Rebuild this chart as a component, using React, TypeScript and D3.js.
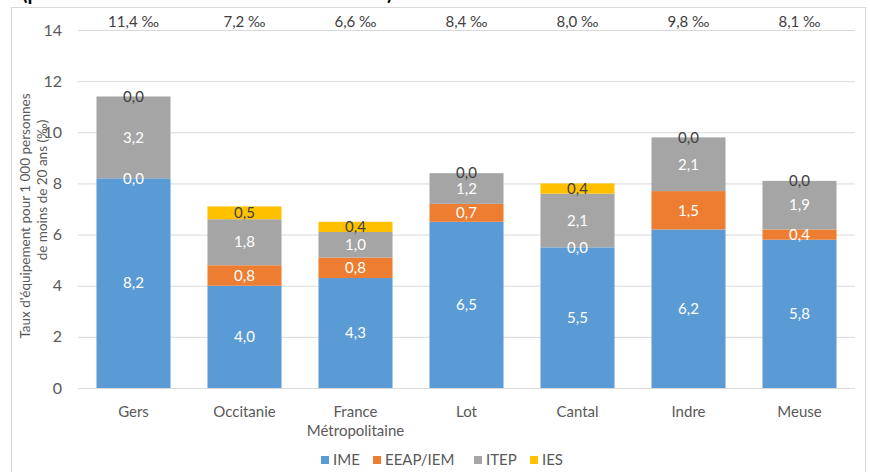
import { useEffect, useRef } from 'react';
import * as d3 from 'd3';

const categories = ['Gers', 'Occitanie', 'France\nMétropolitaine', 'Lot', 'Cantal', 'Indre', 'Meuse'];
const seriesNames = ['IME', 'EEAP/IEM', 'ITEP', 'IES'];
const ime = [8.2, 4.0, 4.3, 6.5, 5.5, 6.2, 5.8];
const eeap = [0.0, 0.8, 0.8, 0.7, 0.0, 1.5, 0.4];
const itep = [3.2, 1.8, 1.0, 1.2, 2.1, 2.1, 1.9];
const ies = [0.0, 0.5, 0.4, 0.0, 0.4, 0.0, 0.0];
const totals = ['11,4 ‰', '7,2 ‰', '6,6 ‰', '8,4 ‰', '8,0 ‰', '9,8 ‰', '8,1 ‰'];
const yTicks = [0, 2, 4, 6, 8, 10, 12, 14];

const colors = ['#5B9BD5', '#ED7D31', '#A5A5A5', '#FFC000'];
const labelColors = ['#ffffff', '#ffffff', '#ffffff', '#404040'];
const FONT = 'Lato, "Open Sans", sans-serif';

export default function App() {
  const svgRef = useRef<SVGSVGElement>(null);
  const W = 870;
  const H = 472;

  useEffect(() => {
    if (!svgRef.current) return;
    const svg = d3.select(svgRef.current);
    svg.selectAll('*').remove();

    // title, mostly cut off above the chart frame
    svg.append('text').attr('x', 22).attr('y', 0)
      .attr('font-family', FONT).attr('font-weight', 700).attr('font-size', 20)
      .attr('fill', '#000').text('(pour 1 000 habitants de moins de 20 ans)');

    // chart frame
    svg.append('rect').attr('x', 11.5).attr('y', 7.5).attr('width', 854).attr('height', 480)
      .attr('fill', '#fff').attr('stroke', '#D9D9D9');

    const left = 78, right = 855, top = 30, bottom = 388;
    const x = d3.scaleBand<string>().domain(categories).range([left, right]).paddingInner(0.333).paddingOuter(0.1665);
    const y = d3.scaleLinear().domain([0, 14]).range([bottom, top]);

    // grid
    svg.append('g').selectAll('line').data(yTicks).join('line')
      .attr('x1', left).attr('x2', right)
      .attr('y1', d => y(d) + 0.5).attr('y2', d => y(d) + 0.5)
      .attr('stroke', '#D9D9D9').attr('stroke-width', 1);

    // y tick labels
    svg.append('g').selectAll('text').data(yTicks).join('text')
      .attr('x', 62).attr('y', d => y(d)).attr('dy', '0.35em')
      .attr('text-anchor', 'end').attr('font-family', FONT).attr('font-size', 16)
      .attr('fill', '#595959').text(d => String(d));

    // y axis title
    const yt = [
      { t: "Taux d'équipement  pour 1 000 personnes", cx: 25, cy: 216 },
      { t: 'de moins de 20 ans (‰)', cx: 42, cy: 190 },
    ];
    yt.forEach(l => {
      svg.append('text').attr('transform', `translate(${l.cx},${l.cy}) rotate(-90)`)
        .attr('text-anchor', 'middle').attr('dy', '0.35em')
        .attr('font-family', FONT).attr('font-size', 13.5).attr('fill', '#595959').text(l.t);
    });

    const rows = categories.map((c, i) => ({ cat: c, IME: ime[i], 'EEAP/IEM': eeap[i], ITEP: itep[i], IES: ies[i] }));
    const stack = d3.stack<any>().keys(seriesNames)(rows);

    stack.forEach((layer, si) => {
      svg.append('g').selectAll('rect').data(layer).join('rect')
        .attr('x', d => x(d.data.cat)!)
        .attr('width', x.bandwidth())
        .attr('y', d => y(d[1]))
        .attr('height', d => y(d[0]) - y(d[1]))
        .attr('fill', colors[si]);
    });

    stack.forEach((layer, si) => {
      svg.append('g').selectAll('text').data(layer).join('text')
        .attr('x', d => x(d.data.cat)! + x.bandwidth() / 2)
        .attr('y', d => y((d[0] + d[1]) / 2))
        .attr('dy', '0.35em').attr('text-anchor', 'middle')
        .attr('font-family', FONT).attr('font-size', 15)
        .attr('fill', labelColors[si])
        .text(d => (d[1] - d[0]).toFixed(1).replace('.', ','));
    });

    // totals
    svg.append('g').selectAll('text').data(categories).join('text')
      .attr('x', d => x(d)! + x.bandwidth() / 2).attr('y', 22).attr('dy', '0.35em')
      .attr('text-anchor', 'middle').attr('font-family', FONT).attr('font-size', 15)
      .attr('fill', '#404040').text((d, i) => totals[i]);

    // category labels
    categories.forEach(c => {
      c.split('\n').forEach((ln, li) => {
        svg.append('text').attr('x', x(c)! + x.bandwidth() / 2).attr('y', 412 + li * 19)
          .attr('dy', '0.35em').attr('text-anchor', 'middle')
          .attr('font-family', FONT).attr('font-size', 15).attr('fill', '#595959').text(ln);
      });
    });

    // legend
    const legendX = [321, 373, 474, 530];
    seriesNames.forEach((s, i) => {
      svg.append('rect').attr('x', legendX[i]).attr('y', 456).attr('width', 8).attr('height', 8).attr('fill', colors[i]);
      svg.append('text').attr('x', legendX[i] + 12).attr('y', 460).attr('dy', '0.35em')
        .attr('font-family', FONT).attr('font-size', 15).attr('fill', '#595959').text(s);
    });
  }, []);

  return (
    <svg ref={svgRef} width={W} height={H}
      style={{ position: 'fixed', left: 0, top: 0, background: '#fff' }} />
  );
}
